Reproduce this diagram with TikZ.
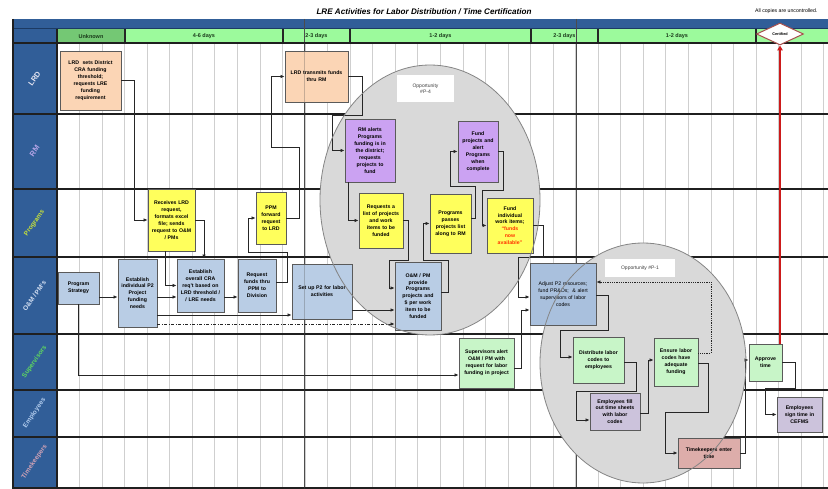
\documentclass[tikz,border=0pt]{standalone}
\usepackage{fontspec}
\setmainfont{Liberation Sans}
\usetikzlibrary{arrows.meta,shapes.geometric}

\definecolor{laneblue}{HTML}{315E98}
\definecolor{lanedark}{HTML}{1C3A63}
\definecolor{hdrgreen}{HTML}{9CFA9C}
\definecolor{hdrdark}{HTML}{74C874}
\definecolor{hdrtext}{HTML}{1A3A1A}
\definecolor{peach}{HTML}{FBD5B5}
\definecolor{lilac}{HTML}{CBA2F2}
\definecolor{lemon}{HTML}{FFFF5C}
\definecolor{steel}{HTML}{B9CDE5}
\definecolor{steeldk}{HTML}{A9C0DD}
\definecolor{mint}{HTML}{C8F5C8}
\definecolor{heather}{HTML}{CCC3DC}
\definecolor{rose}{HTML}{DDADAA}
\definecolor{oppgray}{HTML}{D9D9D9}
\definecolor{oppedge}{HTML}{858585}
\definecolor{gridgray}{HTML}{CFCFCF}
\definecolor{boxedge}{HTML}{5A5A5A}
\definecolor{wire}{HTML}{262626}
\definecolor{funds}{HTML}{FF3300}
\definecolor{certred}{HTML}{CC1A1A}
\definecolor{certedge}{HTML}{A8504D}
\definecolor{lblLRD}{HTML}{E6E6F2}
\definecolor{lblRM}{HTML}{B7A6E8}
\definecolor{lblPrg}{HTML}{C6E03A}
\definecolor{lblOM}{HTML}{D6E2F4}
\definecolor{lblSup}{HTML}{5FD85F}
\definecolor{lblEmp}{HTML}{B3CDEE}
\definecolor{lblTk}{HTML}{D2A3B6}

\newcommand\bxfont{\fontsize{5.2}{6.9}\selectfont\bfseries}

\begin{document}
\begin{tikzpicture}[x=1pt,y=-1pt,
  bx/.style={draw=boxedge,line width=0.9pt,align=center,inner sep=0pt,font=\bxfont},
  wh/.style n args={3}{minimum width=#1pt,minimum height=#2pt,text width=#3pt},
  wireln/.style={draw=wire,line width=0.8pt,-{Latex[length=4pt,width=3.6pt]}},
  dotln/.style={wireln,densely dotted},
  dashdotln/.style={wireln,dash pattern=on 3pt off 1.5pt on 1pt off 1.5pt},
  laneln/.style={draw=black!88,line width=1.2pt},
  gridln/.style={draw=gridgray,line width=0.8pt},
  pgbrk/.style={draw=black!70,line width=0.8pt},
  hdrcell/.style={font=\fontsize{5.5}{6}\selectfont\bfseries,text=hdrtext},
  lanelbl/.style={rotate=55,inner sep=0pt,font=\fontsize{6.5}{7}\selectfont\bfseries},
  oppfill/.style={fill=oppgray},
  oppline/.style={draw=oppedge,line width=0.8pt},
  opplbl/.style={fill=white,inner sep=0pt,align=center,font=\fontsize{5}{6.5}\selectfont,text=black!75}
]
\useasboundingbox[fill=white] (0,0) rectangle (828,489);

% heading
\node[font=\fontsize{8.1}{10}\selectfont\bfseries\itshape] (title) at (424,12)
  {LRE Activities for Labor Distribution / Time Certification};
\node[font=\fontsize{5.2}{6}\selectfont,anchor=east] (note) at (821,11) {All copies are uncontrolled.};

% blue bands and header row
\fill[laneblue] (13,19) rectangle (828,29);
\fill[laneblue] (13,29) rectangle (57,489);
\fill[hdrdark] (57,29) rectangle (125,43);
\fill[hdrgreen] (125,29) rectangle (828,43);
\draw[draw=lanedark,line width=1pt] (13,29) -- (828,29);
\foreach \xx in {125,283,350,531,598,756}
  \draw[draw=black!85,line width=1.2pt] (\xx,29) -- (\xx,43);
\node[hdrcell] (h1) at (91,36.5) {Unknown};
\node[hdrcell] (h2) at (204,36.5) {4-6 days};
\node[hdrcell] (h3) at (316.5,36.5) {2-3 days};
\node[hdrcell] (h4) at (440.5,36.5) {1-2 days};
\node[hdrcell] (h5) at (564.5,36.5) {2-3 days};
\node[hdrcell] (h6) at (677,36.5) {1-2 days};

% time grid
\foreach \k in {1,...,34}
  \draw[gridln] ({57+22.55*\k},43) -- ({57+22.55*\k},489);
\draw[pgbrk] (304,19) -- (304,489);
\draw[pgbrk] (576,19) -- (576,489);

% swimlane rules
\foreach \yy in {43,114,189,257,334,390,437,488}
  \draw[laneln] (13,\yy) -- (828,\yy);
\draw[laneln] (13,19) -- (13,489);
\draw[laneln] (57,29) -- (57,489);

% lane titles
\node[lanelbl,text=lblLRD,font=\fontsize{7.5}{8}\selectfont\bfseries] (lLRD) at (34.5,78.5) {LRD};
\node[lanelbl,text=lblRM,font=\fontsize{7.5}{8}\selectfont\bfseries] (lRM) at (34.5,151) {RM};
\node[lanelbl,text=lblPrg] (lPrg) at (34.5,223) {Programs};
\node[lanelbl,text=lblOM] (lOM) at (34.5,296) {O\&M / PM's};
\node[lanelbl,text=lblSup] (lSup) at (34.5,362) {Supervisors};
\node[lanelbl,text=lblEmp] (lEmp) at (34.5,413) {Employees};
\node[lanelbl,text=lblTk] (lTk) at (34.5,462) {Timekeepers};

% improvement opportunities (areas)
\fill[oppfill] (430,200) ellipse [x radius=110, y radius=135];
\fill[oppfill] (643,363) ellipse [x radius=103, y radius=120];
\node[opplbl,minimum width=57pt,minimum height=27pt] (opp4) at (425.5,88.5) {Opportunity\\\#P-4};
\node[opplbl,minimum width=70pt,minimum height=18pt] (opp1) at (640,268) {Opportunity \#P-1};

% LRD
\node[bx,wh={61}{59}{57},fill=peach] (lrd1) at (90.5,80.5)
  {LRD\ \ sets District\\CRA funding\\threshold;\\requests LRE\\funding\\requirement};
\node[bx,wh={63}{51}{60},fill=peach] (lrd2) at (316.5,76.5) {LRD transmits funds\\thru RM};
% RM
\node[bx,wh={50}{63}{47},fill=lilac] (rm1) at (370,150.5)
  {RM alerts\\Programs\\funding is in\\the district;\\requests\\projects to\\fund};
\node[bx,wh={40}{61}{38},fill=lilac] (rm2) at (478,151.5)
  {Fund\\projects and\\alert\\Programs\\when\\complete};
% Programs
\node[bx,wh={47}{62}{45},fill=lemon] (pg1) at (171.5,220)
  {Receives LRD\\request,\\formats excel\\file; sends\\request to O\&M\\/ PMs};
\node[bx,wh={30}{52}{28},fill=lemon] (pg2) at (271,218) {PPM\\forward\\request\\to LRD};
\node[bx,wh={44}{55}{42},fill=lemon] (pg3) at (381,220.5)
  {Requests a\\list of projects\\and work\\items to be\\funded};
\node[bx,wh={41}{59}{39},fill=lemon] (pg4) at (450.5,223.5)
  {Programs\\passes\\projects list\\along to RM};
\node[bx,wh={46}{55}{44},fill=lemon] (pg5) at (510,225.5)
  {Fund\\individual\\work items;\\\textcolor{funds}{“funds}\\\textcolor{funds}{now}\\\textcolor{funds}{available”}};
% O&M / PM's
\node[bx,wh={41}{32}{39},fill=steel] (om1) at (78.5,288) {Program\\Strategy};
\node[bx,wh={39}{68}{37},fill=steel] (om2) at (137.5,293)
  {Establish\\individual P2\\Project\\funding\\needs};
\node[bx,wh={47}{53}{45},fill=steel] (om3) at (200.5,285.5)
  {Establish\\overall CRA\\req't based on\\LRD threshold /\\/ LRE needs};
\node[bx,wh={38}{53}{36},fill=steel] (om4) at (257,285.5)
  {Request\\funds thru\\PPM to\\Division};
\node[bx,wh={60}{55}{56},fill=steel] (om5) at (322,291.5) {Set up P2 for labor\\activities};
\node[bx,wh={46}{68}{44},fill=steel] (om6) at (418,296)
  {O\&M / PM\\provide\\Programs\\projects and\\\$ per work\\item to be\\funded};
\node[bx,wh={66}{62}{62},fill=steeldk,font=\fontsize{5.2}{6.9}\selectfont] (om7) at (563,294)
  {Adjust P2 resources;\\fund PR\&Os;\ \ \& alert\\supervisors of labor\\codes};
% Supervisors
\node[bx,wh={55}{50}{52},fill=mint] (sv1) at (486.5,363)
  {Supervisors alert\\O\&M / PM with\\request for labor\\funding in project};
\node[bx,wh={51}{46}{48},fill=mint] (sv2) at (598.5,360) {Distribute labor\\codes to\\employees};
\node[bx,wh={44}{48}{42},fill=mint] (sv3) at (676,362) {Ensure labor\\codes have\\adequate\\funding};
\node[bx,wh={33}{37}{31},fill=mint] (sv4) at (765.5,362.5) {Approve\\time};
% Employees
\node[bx,wh={50}{37}{48},fill=heather] (em1) at (615,411.5)
  {Employees fill\\out time sheets\\with labor\\codes};
\node[bx,wh={45}{35}{43},fill=heather] (em2) at (799.5,414.5) {Employees\\sign time in\\CEFMS};
% Timekeepers
\node[bx,wh={62}{30}{58},fill=rose] (tk1) at (709,453) {Timekeepers enter\\time};

% flow
\draw[wireln] (lrd1.east) -| (134,220) -- (pg1.west);
\draw[wireln] ([xshift=-6.5pt]pg1.south) |- (om3.west);
\draw[wireln] (pg1.east) -| ([xshift=3.5pt]om3.north);
\draw[wireln] ([yshift=-9pt]om1.east) -- ([yshift=-4pt]om2.west);
\draw[wireln] ([yshift=-4pt]om2.east) -- ([yshift=-11.5pt]om3.west);
\draw[wireln] ([yshift=-11.5pt]om3.east) -- ([yshift=-11.5pt]om4.west);
\draw[wireln] ([yshift=3.5pt]om4.east) -- (287,282) -- (287,252) -- (248,252) |- (pg2.west);
\draw[wireln] (pg2.east) -- (299,218) -- (299,147) -- (271,147) |- (lrd2.west);
\draw[wireln] (lrd2.east) -| (362,115) -- (332,115) |- (rm1.west);
\draw[wireln] ([xshift=-22pt]rm1.south) |- (pg3.west);
\draw[wireln] (pg3.east) -| (408,260) -- (389,260) |- ([yshift=8pt]om6.west);
\draw[wireln] ([yshift=4pt]om6.east) -| (448,260) -- (423,260) |- (pg4.west);
\draw[wireln] ([yshift=5.5pt]pg4.east) -| (475,186) -- (450,186) |- (rm2.west);
\draw[wireln] (rm2.east) -| (503,190) -- (482,190) |- (pg5.west);
\draw[wireln] (pg5.east) -| (543,257) -- (518,257) |- ([yshift=-3pt]om7.west);
\draw[wireln] ([yshift=-22pt]om2.east) -- ([yshift=-23.5pt]om5.west);
\draw[dashdotln] ([yshift=-31pt]om2.east) -- ([yshift=-28pt]om6.west);
\draw[wireln] ([yshift=-18.5pt]om5.east) -- ([yshift=-14pt]om6.west);
\draw[wireln] (om1.south) |- ([yshift=-12pt]sv1.west);
\draw[wireln] ([yshift=-5pt]sv1.east) -| (521,310) -- ([yshift=-16pt]om7.west);
\draw[dotln] ([yshift=9pt]sv3.east) -| (711,282) -- ([yshift=12pt]om7.east);
\draw[wireln] ([yshift=-1pt]om7.east) -| (608,330) -- (560,330) |- ([yshift=3pt]sv2.west);
\draw[wireln] ([yshift=-2pt]sv2.east) -| (636,391) -- (576,391) |- ([yshift=-8.5pt]em1.west);
\draw[wireln] ([yshift=-1.5pt]em1.east) -| (648,360) -- ([yshift=2pt]sv3.west);
\draw[wireln] ([yshift=-1pt]sv3.east) -| (708,412) -- (665,412) |- (tk1.west);
\draw[wireln] (tk1.east) -| (745,360) -- ([yshift=2.5pt]sv4.west);
\draw[wireln] (sv4.east) -| (795,388) -- (765,388) |- (em2.west);

% outlines of the opportunity areas
\draw[oppline] (430,200) ellipse [x radius=110, y radius=135];
\draw[oppline] (643,363) ellipse [x radius=103, y radius=120];
\draw[pgbrk,opacity=0.3] (304,43) -- (304,489);

% certification milestone
\node[diamond,aspect=2.14,draw=certedge,fill=white,line width=1pt,minimum width=47pt,minimum height=22pt,
  inner sep=0pt,font=\fontsize{3.8}{4}\selectfont\bfseries] (cert) at (780,34) {Certified};
\draw[draw=certred,line width=2pt,-{Triangle[length=5pt,width=5.5pt]}] ([xshift=14.5pt]sv4.north) -- (cert.south);
\end{tikzpicture}
\end{document}
